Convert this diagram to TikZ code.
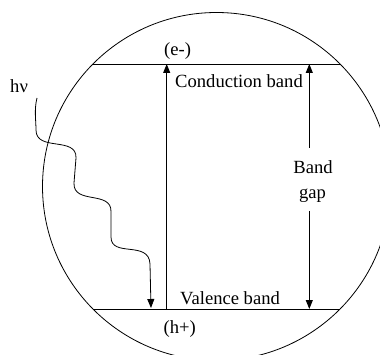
\documentclass[tikz,border=0pt]{standalone}
\usepackage{fontspec}
\setmainfont{Liberation Serif}
\usetikzlibrary{arrows.meta}
\begin{document}
\begin{tikzpicture}[x=1pt,y=-1pt,
  lbl/.style={inner sep=0pt,font=\fontsize{18.6}{22}\selectfont},
  arr/.style={-{Triangle[length=9pt,width=7pt]},line width=0.9pt},
  band/.style={line width=0.9pt}]
\useasboundingbox (0,0) rectangle (380,355);
\begin{scope}
\clip (0,0) rectangle (380,355);
\draw[line width=0.8pt] (216.5,186.5) circle[radius=174pt];
\end{scope}
% band lines
\coordinate (cl) at (92.9,64);
\coordinate (cr) at (340.1,64);
\coordinate (vl) at (92.9,309);
\coordinate (vr) at (340.1,309);
\draw[band] (cl) -- (cr);
\draw[band] (vl) -- (vr);
% excitation arrow
\coordinate (eb) at (166.7,309);
\coordinate (et) at (166.7,64);
\draw[arr] (eb) -- (et);
% labels
\node[lbl,anchor=base west] (e) at (164,56) {(e-)};
\node[lbl,anchor=base west] (cb) at (175,87.3) {Conduction band};
\node[lbl,anchor=base west] (vb) at (180,305) {Valence band};
\node[lbl,anchor=base west] (h) at (163.5,333) {(h+)};
\node[lbl,anchor=base west] (hv) at (10,93) {hν};
\node[lbl,anchor=base] (bnd) at (313,173.3) {Band};
\node[lbl,anchor=base] (gap) at (312.5,198.3) {gap};
% band gap arrows
\coordinate (gt0) at (309.3,148);
\coordinate (gt1) at (309.3,64);
\coordinate (gb0) at (309.3,211);
\coordinate (gb1) at (309.3,309);
\draw[arr] (gt0) -- (gt1);
\draw[arr] (gb0) -- (gb1);
% photon wavy line
\coordinate (w0) at (37,98);
\coordinate (w1) at (151,308);
\draw[arr,line width=0.8pt] (w0) .. controls (34,110) and (36,120) .. (36,130)
  .. controls (36,152) and (77,136) .. (76,158)
  -- (74,183)
  .. controls (73,205) and (112,190) .. (111,212)
  -- (111,237)
  .. controls (111,258) and (149,240) .. (150,264)
  -- (w1);
\end{tikzpicture}
\end{document}
